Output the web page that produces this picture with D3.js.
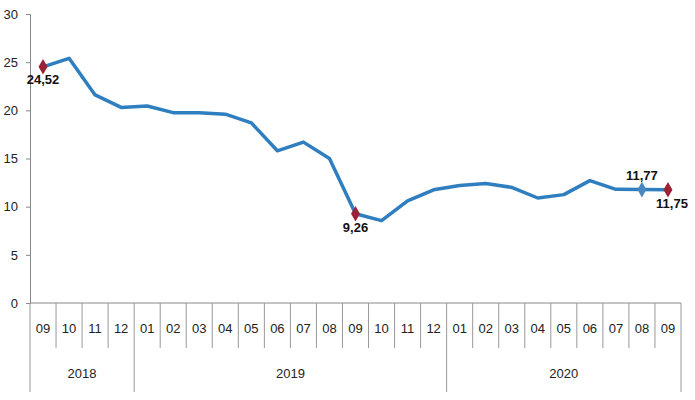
<!DOCTYPE html>
<html>
<head>
<meta charset="utf-8">
<script src="https://cdn.jsdelivr.net/npm/d3@7"></script>
<style>
  body { margin: 0; background: #fff; }
  text { font-family: "Liberation Sans Narrow", "Liberation Sans", Arial, sans-serif; }
</style>
</head>
<body>
<svg width="695" height="400"></svg>
<script>
const months = ['09','10','11','12','01','02','03','04','05','06','07','08','09','10','11','12','01','02','03','04','05','06','07','08','09'];
const years = [
    {label: '2018', start: 0, end: 4},
    {label: '2019', start: 4, end: 16},
    {label: '2020', start: 16, end: 25}
];
const values = [24.52, 25.4, 21.6, 20.3, 20.45, 19.76, 19.75, 19.6, 18.7, 15.8, 16.7, 15.0,
    9.26, 8.55, 10.6, 11.75, 12.2, 12.4, 12.0, 10.9, 11.25, 12.7, 11.8, 11.77, 11.75];
const yTicks = [0, 5, 10, 15, 20, 25, 30];
// labelled points: index, text, position
const marked = [
    {i: 0, text: '24,52', fill: '#9b2335', dx: 0, dy: 17},
    {i: 12, text: '9,26', fill: '#9b2335', dx: 0, dy: 18},
    {i: 23, text: '11,77', fill: '#4a86c0', dx: 0, dy: -10},
    {i: 24, text: '11,75', fill: '#9b2335', dx: 4, dy: 18}
];

const svg = d3.select('svg');
const mLeft = 30, mRight = 681, mTop = 14, mBottom = 303;

const x = d3.scaleBand()
    .domain(d3.range(months.length))
    .range([mLeft, mRight]);

const y = d3.scaleLinear()
    .domain([0, 30])
    .range([mBottom, mTop]);

// y axis
const yAxis = svg.append('g')
    .attr('transform', `translate(${mLeft},0)`)
    .call(d3.axisLeft(y).tickValues(yTicks).tickSize(4).tickPadding(8));
yAxis.select('.domain').attr('stroke', '#888');
yAxis.selectAll('.tick line').attr('stroke', '#888');
yAxis.selectAll('.tick text').attr('font-size', 13).attr('fill', '#222');

// x baseline
svg.append('line')
    .attr('x1', mLeft).attr('x2', mRight)
    .attr('y1', mBottom).attr('y2', mBottom)
    .attr('stroke', '#888');

// month dividers
const dividers = d3.range(months.length + 1);
const yearEdges = new Set(years.flatMap(d => [d.start, d.end]));
svg.selectAll('line.div')
    .data(dividers)
    .enter()
    .append('line')
        .attr('class', 'div')
        .attr('x1', d => mLeft + d * x.bandwidth())
        .attr('x2', d => mLeft + d * x.bandwidth())
        .attr('y1', mBottom)
        .attr('y2', d => yearEdges.has(d) ? 392 : 348)
        .attr('stroke', '#999');

svg.selectAll('text.month')
    .data(months)
    .enter()
    .append('text')
        .attr('class', 'month')
        .attr('x', (d, i) => x(i) + x.bandwidth() / 2)
        .attr('y', 333)
        .attr('text-anchor', 'middle')
        .attr('font-size', 13)
        .attr('fill', '#222')
        .text(d => d);

svg.selectAll('text.year')
    .data(years)
    .enter()
    .append('text')
        .attr('class', 'year')
        .attr('x', d => (x(d.start) + x(d.end - 1) + x.bandwidth()) / 2)
        .attr('y', 378)
        .attr('text-anchor', 'middle')
        .attr('font-size', 13)
        .attr('fill', '#222')
        .text(d => d.label);

// line
const line = d3.line()
    .x((d, i) => x(i) + x.bandwidth() / 2)
    .y(d => y(d));

svg.append('path')
    .datum(values)
    .attr('d', line)
    .attr('fill', 'none')
    .attr('stroke', '#2f7ebf')
    .attr('stroke-width', 3.5)
    .attr('stroke-linejoin', 'round');

// markers + labels
const diamond = d3.symbol().type(d3.symbolDiamond).size(70);
svg.selectAll('path.mark')
    .data(marked)
    .enter()
    .append('path')
        .attr('class', 'mark')
        .attr('d', diamond)
        .attr('transform', d => `translate(${x(d.i) + x.bandwidth() / 2},${y(values[d.i])})`)
        .attr('fill', d => d.fill);

svg.selectAll('text.lbl')
    .data(marked)
    .enter()
    .append('text')
        .attr('class', 'lbl')
        .attr('x', d => x(d.i) + x.bandwidth() / 2 + d.dx)
        .attr('y', d => y(values[d.i]) + d.dy)
        .attr('text-anchor', 'middle')
        .attr('font-size', 13)
        .attr('font-weight', 'bold')
        .attr('fill', '#111')
        .text(d => d.text);
</script>
</body>
</html>
